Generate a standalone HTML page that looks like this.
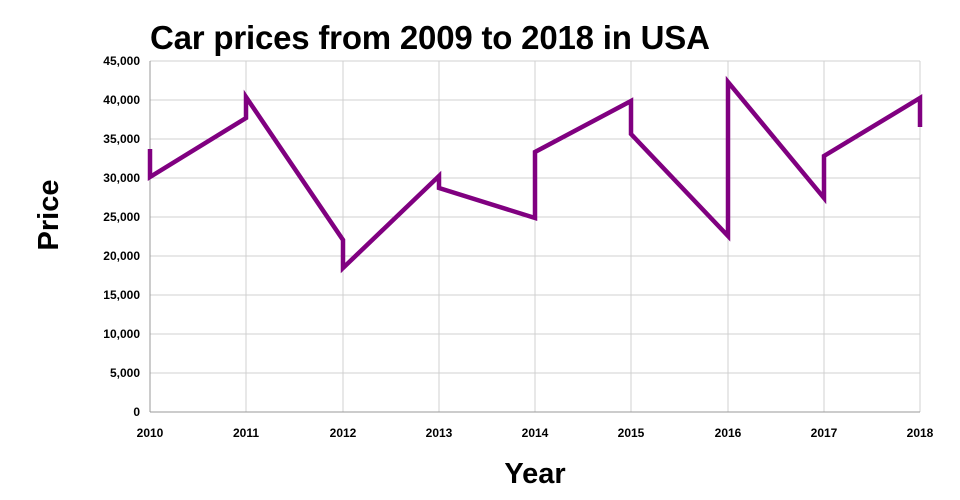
<!DOCTYPE html>
<html><head><meta charset="utf-8"><style>
body{margin:0;background:#fff;}
svg{display:block;font-family:"Liberation Sans",sans-serif;}
</style></head><body>
<svg width="960" height="500" viewBox="0 0 960 500">
<rect width="960" height="500" fill="#fff"/>
<text x="150" y="49" font-size="33" font-weight="bold" fill="#000" letter-spacing="-0.2">Car prices from 2009 to 2018 in USA</text>
<g stroke="#d0d0d0" stroke-width="1">
<line x1="150" y1="61" x2="920" y2="61"/>
<line x1="150" y1="100" x2="920" y2="100"/>
<line x1="150" y1="139" x2="920" y2="139"/>
<line x1="150" y1="178" x2="920" y2="178"/>
<line x1="150" y1="217" x2="920" y2="217"/>
<line x1="150" y1="256" x2="920" y2="256"/>
<line x1="150" y1="295" x2="920" y2="295"/>
<line x1="150" y1="334" x2="920" y2="334"/>
<line x1="150" y1="373" x2="920" y2="373"/>
<line x1="246" y1="61" x2="246" y2="412"/>
<line x1="343" y1="61" x2="343" y2="412"/>
<line x1="439" y1="61" x2="439" y2="412"/>
<line x1="535" y1="61" x2="535" y2="412"/>
<line x1="631" y1="61" x2="631" y2="412"/>
<line x1="728" y1="61" x2="728" y2="412"/>
<line x1="824" y1="61" x2="824" y2="412"/>
<line x1="920" y1="61" x2="920" y2="412"/>
</g>
<line x1="150" y1="61" x2="150" y2="412" stroke="#999" stroke-width="1"/>
<line x1="150" y1="412" x2="920" y2="412" stroke="#999" stroke-width="1"/>
<g font-size="12" font-weight="bold" text-anchor="end" fill="#000">
<text x="140" y="65">45,000</text><text x="140" y="104">40,000</text><text x="140" y="143">35,000</text>
<text x="140" y="182">30,000</text><text x="140" y="221">25,000</text><text x="140" y="260">20,000</text>
<text x="140" y="299">15,000</text><text x="140" y="338">10,000</text><text x="140" y="377">5,000</text>
<text x="140" y="416">0</text>
</g>
<g font-size="12" font-weight="bold" text-anchor="middle" fill="#000">
<text x="150" y="437">2010</text><text x="246" y="437">2011</text><text x="343" y="437">2012</text>
<text x="439" y="437">2013</text><text x="535" y="437">2014</text><text x="631" y="437">2015</text>
<text x="728" y="437">2016</text><text x="824" y="437">2017</text><text x="920" y="437">2018</text>
</g>
<text x="535" y="483" font-size="29" font-weight="bold" text-anchor="middle">Year</text>
<text transform="translate(58,215) rotate(-90)" font-size="29" font-weight="bold" text-anchor="middle">Price</text>
<polyline fill="none" stroke="#800080" stroke-width="4.5" stroke-linejoin="miter"
points="150,149 150,177 246,118 246,97 343,240 343,268 439,176 439,188 535,218 535,152 631,101 631,134 728,236 728,82 824,198 824,156 920,98 920,127"/>
</svg>
</body></html>
